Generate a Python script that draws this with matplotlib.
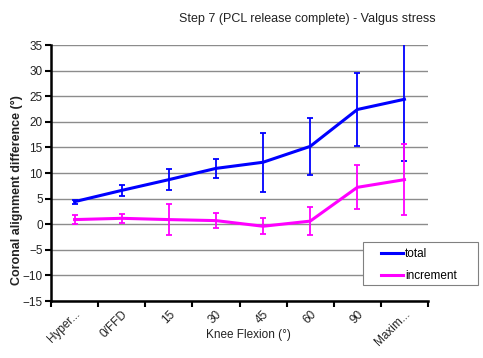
import matplotlib
matplotlib.use("Agg")
import matplotlib.pyplot as plt
from matplotlib.lines import Line2D
from matplotlib.patches import Rectangle
import numpy as np

plt.rcParams['font.family'] = ['Liberation Sans', 'DejaVu Sans']

categories = ["Hyper...", "0/FFD", "15", "30", "45", "60", "90", "Maxim..."]
total = [4.4, 6.6, 8.7, 10.9, 12.1, 15.2, 22.4, 24.4]
total_err = [0.4, 1.15, 2.0, 1.9, 5.8, 5.5, 7.2, 12.1]
increment = [0.9, 1.15, 0.9, 0.7, -0.4, 0.6, 7.2, 8.7]
increment_err = [0.9, 0.85, 3.0, 1.5, 1.55, 2.7, 4.3, 6.9]
yticks = list(range(-15, 40, 5))

BLUE = '#0000FF'
MAGENTA = '#FF00FF'

fig = plt.figure(figsize=(4.83, 3.58), dpi=100)
ax = fig.add_axes([51 / 483, 1 - 301 / 358, 377 / 483, 256 / 358])

x = np.arange(len(categories))
ax.errorbar(x, total, yerr=total_err, color=BLUE, lw=2.2, elinewidth=1.3,
            capsize=2.5, capthick=1.3, zorder=3)
ax.errorbar(x, increment, yerr=increment_err, color=MAGENTA, lw=2.2, elinewidth=1.3,
            capsize=2.5, capthick=1.3, zorder=3)

ax.set_xlim(-0.5, len(categories) - 0.5)
ax.set_ylim(-15, 35)
ax.set_yticks(yticks)
ax.yaxis.grid(True, color='#8c8c8c', lw=1)
ax.set_axisbelow(True)

# ticks at category boundaries, labels at centers
ax.set_xticks(np.arange(len(categories) + 1) - 0.5)
ax.set_xticklabels([])
ax.set_xticks(x, minor=True)
ax.set_xticklabels(categories, minor=True, rotation=45, ha='right',
                   rotation_mode='anchor', fontsize=8.5, color='#222222')
ax.tick_params(axis='x', which='minor', length=0, pad=5)
ax.tick_params(axis='x', which='major', length=4, width=1.5, direction='out')
ax.tick_params(axis='y', length=4, width=1.5, labelsize=8.5, labelcolor='#222222', pad=2)

for side in ['top', 'right']:
    ax.spines[side].set_visible(False)
for side in ['left', 'bottom']:
    ax.spines[side].set_linewidth(1.8)

ax.set_xlabel("Knee Flexion (°)", fontsize=8.5, color='#222222')
ax.xaxis.set_label_coords(0.5225, -0.109)
ax.set_ylabel("Coronal alignment difference (°)", fontsize=9, fontweight='bold',
              color='#222222')
ax.yaxis.set_label_coords(-0.074, 0.434)

fig.text(307 / 483, 1 - 19 / 358, "Step 7 (PCL release complete) - Valgus stress",
         ha='center', va='center', fontsize=9, color='#222222')

# legend box drawn by hand so its size matches
fig.patches.append(Rectangle((363 / 483, 1 - 285 / 358), 115 / 483, 43 / 358,
                             transform=fig.transFigure, facecolor='white',
                             edgecolor='#808080', lw=0.8, zorder=5))
handles = [Line2D([], [], color=BLUE, lw=2.2), Line2D([], [], color=MAGENTA, lw=2.2)]
leg = fig.legend(handles, ['total', 'increment'], loc='upper left',
                 bbox_to_anchor=(379 / 483, 1 - 246 / 358), fontsize=8.5,
                 frameon=False, handlelength=1.85, handletextpad=0.15,
                 borderpad=0.2, labelspacing=0.8, borderaxespad=0)
leg.set_zorder(6)

fig.savefig("out.png", dpi=100)
